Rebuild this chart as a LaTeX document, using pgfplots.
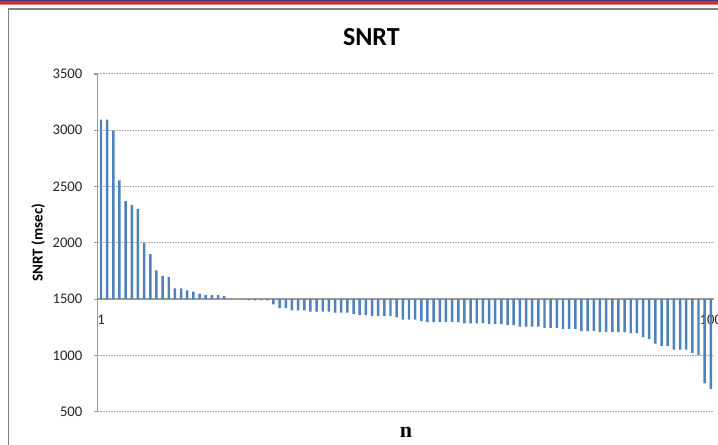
\documentclass[border=0pt]{standalone}
\usepackage{fontspec}
\setmainfont{Carlito}
\newfontfamily\nfont{Liberation Serif}
\usepackage{pgfplots}
\pgfplotsset{compat=1.18}
\usepackage{pgfplotstable}
\definecolor{barblue}{RGB}{79,129,189}
\definecolor{axgray}{RGB}{155,155,155}
\definecolor{gridgray}{RGB}{165,165,165}
\definecolor{framegray}{RGB}{130,130,130}
\definecolor{stripered}{RGB}{205,45,60}
\definecolor{stripeblue}{RGB}{60,55,120}
\definecolor{stripepink}{RGB}{225,120,130}

\pgfplotstableread{
n v
1 3095
2 3095
3 3000
4 2555
5 2370
6 2335
7 2300
8 2000
9 1900
10 1755
11 1705
12 1695
13 1595
14 1595
15 1578
16 1565
17 1548
18 1535
19 1535
20 1535
21 1525
22 1500
23 1500
24 1500
25 1490
26 1488
27 1488
28 1488
29 1453
30 1420
31 1420
32 1400
33 1400
34 1400
35 1388
36 1388
37 1388
38 1388
39 1379
40 1379
41 1379
42 1367
43 1358
44 1358
45 1349
46 1349
47 1349
48 1349
49 1337
50 1317
51 1317
52 1317
53 1305
54 1296
55 1296
56 1296
57 1296
58 1296
59 1296
60 1284
61 1284
62 1284
63 1286
64 1277
65 1277
66 1277
67 1268
68 1268
69 1256
70 1256
71 1256
72 1256
73 1244
74 1244
75 1244
76 1235
77 1235
78 1235
79 1215
80 1215
81 1215
82 1206
83 1206
84 1206
85 1206
86 1206
87 1197
88 1197
89 1162
90 1144
91 1103
92 1083
93 1083
94 1050
95 1050
96 1050
97 1021
98 1000
99 750
100 703
}\snrt

\begin{document}
\begin{tikzpicture}
\path[use as bounding box] (0,0) rectangle (538.5pt,333.75pt);
\fill[white] (0,0) rectangle (538.5pt,333.75pt);
\fill[stripeblue] (0,333.75pt) rectangle (538.5pt,333pt);
\fill[stripered] (0,333pt) rectangle (538.5pt,330.75pt);
\fill[stripepink] (0,330.75pt) rectangle (538.5pt,330pt);
\draw[framegray, line width=1pt] (6.4pt,-2pt) -- (6.4pt,327pt) -- (545pt,327pt);
\begin{axis}[
  at={(73.43pt,25.05pt)}, anchor=south west,
  scale only axis, width=462pt, height=253.2pt,
  xmin=0.5, xmax=100.5, ymin=-1000, ymax=2000,
  axis x line=middle, axis y line=left,
  x axis line style={-, draw=axgray, line width=1.1pt},
  y axis line style={-, draw=axgray, line width=0.8pt},
  xtick={1,100}, xticklabels={1,100},
  ytick={-1000,-500,0,500,1000,1500,2000},
  yticklabels={500,1000,1500,2000,2500,3000,3500},
  ymajorgrids,
  grid style={gridgray, line width=0.75pt, dash pattern=on 0.75pt off 0.45pt},
  tick align=outside, major tick length=3pt,
  ytick style={draw=axgray, line width=0.8pt},
  xtick style={draw=none},
  hide obscured x ticks=false, hide obscured y ticks=false,
  yticklabel style={font=\fontsize{11}{13}\selectfont, text=black!85, inner sep=0pt, anchor=east, xshift=-8.5pt},
  xticklabel style={font=\fontsize{11}{13}\selectfont, text=black!85, inner sep=0pt, anchor=north, yshift=-9pt},
]
\addplot[ybar, bar width=1.85pt, fill=barblue, draw=none] table[x=n, y expr=\thisrow{v}-1500] {\snrt};
\end{axis}
\node[anchor=base, font=\bfseries\fontsize{19.5}{22}\selectfont] at (278.5pt,299.5pt) {SNRT};
\node[rotate=90, font=\bfseries\fontsize{11.3}{13}\selectfont] at (28.7pt,151.65pt) {SNRT (msec)};
\node[anchor=base, font=\nfont\bfseries\fontsize{16.5}{18}\selectfont] at (304.5pt,5.8pt) {n};
\end{tikzpicture}
\end{document}
